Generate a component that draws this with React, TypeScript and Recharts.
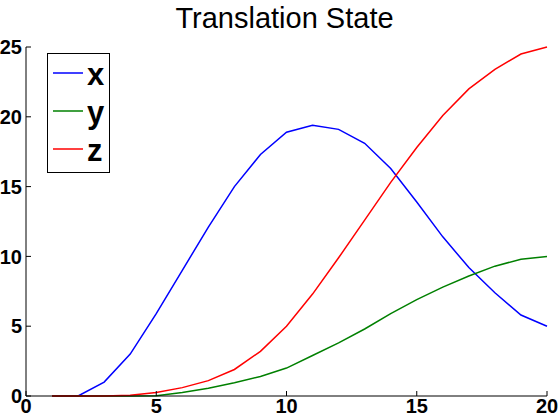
import { Legend, Line, LineChart, XAxis, YAxis } from "recharts";

const steps = [1, 2, 3, 4, 5, 6, 7, 8, 9, 10, 11, 12, 13, 14, 15, 16, 17, 18, 19, 20];
const xState = [0, 0, 1.0, 3.0, 5.9, 9.0, 12.1, 15.0, 17.3, 18.9, 19.4, 19.1, 18.1, 16.3, 13.9, 11.4, 9.2, 7.4, 5.8, 5.0];
const yState = [0, 0, 0, 0, 0.02, 0.25, 0.55, 0.95, 1.4, 2.0, 2.9, 3.8, 4.8, 5.9, 6.9, 7.8, 8.6, 9.3, 9.8, 10.0];
const zState = [0, 0, 0, 0.05, 0.25, 0.6, 1.1, 1.9, 3.2, 5.0, 7.3, 9.9, 12.6, 15.3, 17.8, 20.1, 22.0, 23.4, 24.5, 25.0];
const xTicks = [0, 5, 10, 15, 20];
const yTicks = [0, 5, 10, 15, 20, 25];

const data = steps.map((t, i) => ({ t, x: xState[i], y: yState[i], z: zState[i] }));

const FONT = "'Liberation Sans', Arial, Helvetica, sans-serif";
const tickStyle = { fontSize: 20, fontWeight: "bold", fill: "#000", fontFamily: FONT };

function BoxLegend({ payload }: { payload?: { value: string; color: string }[] }) {
  const items = payload ?? [];
  return (
    <svg height={120} width={63}>
      <rect fill="#fff" height={119} stroke="#000" width={62} x={0.5} y={0.5} />
      {items.map((p, i) => {
        const cy = 20 + i * 38;
        return (
          <g key={p.value}>
            <line stroke={p.color} strokeWidth={1.5} x1={6} x2={36} y1={cy} y2={cy} />
            <text
              fill="#000"
              fontFamily={FONT}
              fontSize={31}
              fontWeight="bold"
              x={40}
              y={cy + 12}
            >
              {p.value}
            </text>
          </g>
        );
      })}
    </svg>
  );
}

export default function App() {
  return (
    <div style={{ position: "absolute", left: 0, top: 0, width: 560, height: 419, background: "#fff" }}>
      <div
        style={{
          position: "absolute",
          left: 24,
          width: 521,
          top: 0,
          textAlign: "center",
          fontFamily: FONT,
          fontSize: 29,
          lineHeight: "37px",
          color: "#000",
        }}
      >
        Translation State
      </div>
      <LineChart data={data} height={419} margin={{ top: 47, right: 13, bottom: 0, left: 0 }} width={560}>
        <XAxis
          axisLine={{ stroke: "#000" }}
          dataKey="t"
          domain={[0, 20]}
          height={23}
          interval={0}
          tick={tickStyle}
          tickLine={{ stroke: "#000" }}
          tickMargin={8}
          tickSize={-5}
          ticks={xTicks}
          type="number"
        />
        <XAxis
          axisLine={{ stroke: "#000" }}
          dataKey="t"
          domain={[0, 20]}
          height={0}
          interval={0}
          orientation="top"
          tick={false}
          tickLine={{ stroke: "#000" }}
          tickSize={-5}
          ticks={xTicks}
          type="number"
          xAxisId="top"
        />
        <YAxis
          axisLine={{ stroke: "#000" }}
          domain={[0, 25]}
          interval={0}
          tick={tickStyle}
          tickLine={{ stroke: "#000" }}
          tickMargin={9}
          tickSize={-5}
          ticks={yTicks}
          type="number"
          width={26}
        />
        <YAxis
          axisLine={{ stroke: "#000" }}
          domain={[0, 25]}
          interval={0}
          orientation="right"
          tick={false}
          tickLine={{ stroke: "#000" }}
          tickSize={-5}
          ticks={yTicks}
          type="number"
          width={0}
          yAxisId="right"
        />
        <Legend
          align="center"
          content={(props) => <BoxLegend payload={props.payload as { value: string; color: string }[]} />}
          layout="vertical"
          verticalAlign="middle"
          wrapperStyle={{ left: 47, top: 53, width: 63, height: 120 }}
        />
        <Line dataKey="x" dot={false} isAnimationActive={false} stroke="#0000ff" strokeWidth={1.5} type="linear" />
        <Line dataKey="y" dot={false} isAnimationActive={false} stroke="#008000" strokeWidth={1.5} type="linear" />
        <Line dataKey="z" dot={false} isAnimationActive={false} stroke="#ff0000" strokeWidth={1.5} type="linear" />
      </LineChart>
    </div>
  );
}
